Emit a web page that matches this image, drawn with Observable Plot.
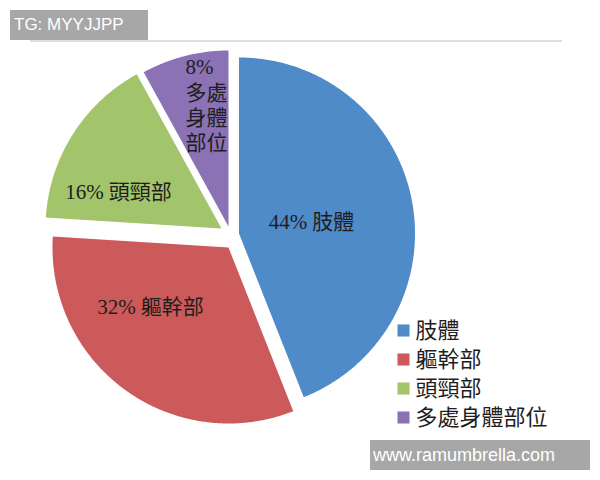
<!DOCTYPE html>
<html>
<head>
<meta charset="utf-8">
<script src="https://cdn.jsdelivr.net/npm/d3@7"></script>
<script src="https://cdn.jsdelivr.net/npm/@observablehq/plot@0.6"></script>
<style>
  body { margin: 0; background: #fff; }
  #wrap { position: relative; width: 600px; height: 480px; overflow: hidden; background: #fff; }
  #topline { position: absolute; left: 30px; top: 40px; width: 532px; height: 2px; background: #dedede; }
  .wm { position: absolute; background: #a7a7a7; color: #fff; font-family: "Liberation Sans", Arial, sans-serif; }
  #wm1 { left: 10px; top: 10px; width: 138px; height: 30px; line-height: 30px; font-size: 17px; padding-left: 4px; box-sizing: border-box; }
  #wm2 { left: 370px; top: 440px; width: 220px; height: 30px; line-height: 30px; font-size: 18px; padding-left: 3px; box-sizing: border-box; }
</style>
</head>
<body>
<div id="wrap">
  <div id="chart"></div>
  <div id="topline"></div>
  <div class="wm" id="wm1">TG: MYYJJPP</div>
  <div class="wm" id="wm2">www.ramumbrella.com</div>
</div>
<script>
// ---- data ----
const categories = ["肢體", "軀幹部", "頭頸部", "多處身體部位"];
const percents = [44, 32, 16, 8];
const sliceLabels = ["44% 肢體", "32% 軀幹部", "16% 頭頸部", "8%\n多處\n身體\n部位"];

// ---- styling / layout ----
const colors = ["#4f8ac9", "#cc5a5b", "#a2c46a", "#8a72b5"];
const W = 600, H = 480, CX = 230, CY = 236, R = 176;
// per-slice displacement of each exploded slice (pixels)
const sliceShift = [[8.5, -3], [-2, 11], [-9, -8], [-2, -10]];
// label anchor points (pixels) and anchors
const labelLayout = [
  {px: 311, py: 222, anchor: "middle"},
  {px: 150, py: 307, anchor: "middle"},
  {px: 118, py: 192, anchor: "middle"},
  {px: 185, py: 56, anchor: "start"}
];
const legendX = 403, legendY0 = 330, legendStep = 29;

const ux = px => (px - CX) / R;
const uy = py => (py - CY) / R;

const arcs = d3.pie().sort(null)(percents);
const slicePts = [];
arcs.forEach((a, i) => {
  const ox = sliceShift[i][0] / R, oy = sliceShift[i][1] / R;
  slicePts.push({name: categories[i], x: ox, y: oy});
  const n = Math.max(2, Math.ceil((a.endAngle - a.startAngle) / (Math.PI / 360)));
  for (let k = 0; k <= n; k++) {
    const t = a.startAngle + (a.endAngle - a.startAngle) * k / n;
    slicePts.push({name: categories[i], x: ox + Math.sin(t), y: oy - Math.cos(t)});
  }
});

const labelData = sliceLabels.map((t, i) => ({
  text: t, x: ux(labelLayout[i].px), y: uy(labelLayout[i].py), anchor: labelLayout[i].anchor
}));
const legendData = categories.map((c, i) => ({name: c, y: uy(legendY0 + i * legendStep)}));

const serif = "'Liberation Serif', 'DejaVu Serif', 'Noto Sans CJK TC', serif";

const chart = Plot.plot({
  width: W, height: H,
  marginTop: 0, marginRight: 0, marginBottom: 0, marginLeft: 0,
  x: {domain: [ux(0), ux(W)], range: [0, W], axis: null},
  y: {domain: [uy(0), uy(H)], range: [0, H], axis: null},
  color: {domain: categories, range: colors},
  style: {background: "transparent"},
  marks: [
    Plot.line(slicePts, {x: "x", y: "y", z: "name", fill: "name", stroke: "none", curve: "linear-closed"}),
    Plot.text(labelData.filter(d => d.anchor === "middle"), {
      x: "x", y: "y", text: "text", textAnchor: "middle", fontSize: 21,
      fill: "#1e1e1e", fontFamily: serif
    }),
    Plot.text(labelData.filter(d => d.anchor === "start"), {
      x: "x", y: "y", text: "text", textAnchor: "start", lineAnchor: "top", lineHeight: 1.2,
      fontSize: 21, fill: "#1e1e1e", fontFamily: serif
    }),
    Plot.dot(legendData, {x: () => ux(legendX), y: "y", symbol: "square", r: 6.8, fill: "name", stroke: "none"}),
    Plot.text(legendData, {
      x: () => ux(legendX + 12), y: "y", text: "name", textAnchor: "start",
      fontSize: 22, fill: "#1e1e1e", fontFamily: serif
    })
  ]
});
document.getElementById("chart").appendChild(chart);
</script>
</body>
</html>
